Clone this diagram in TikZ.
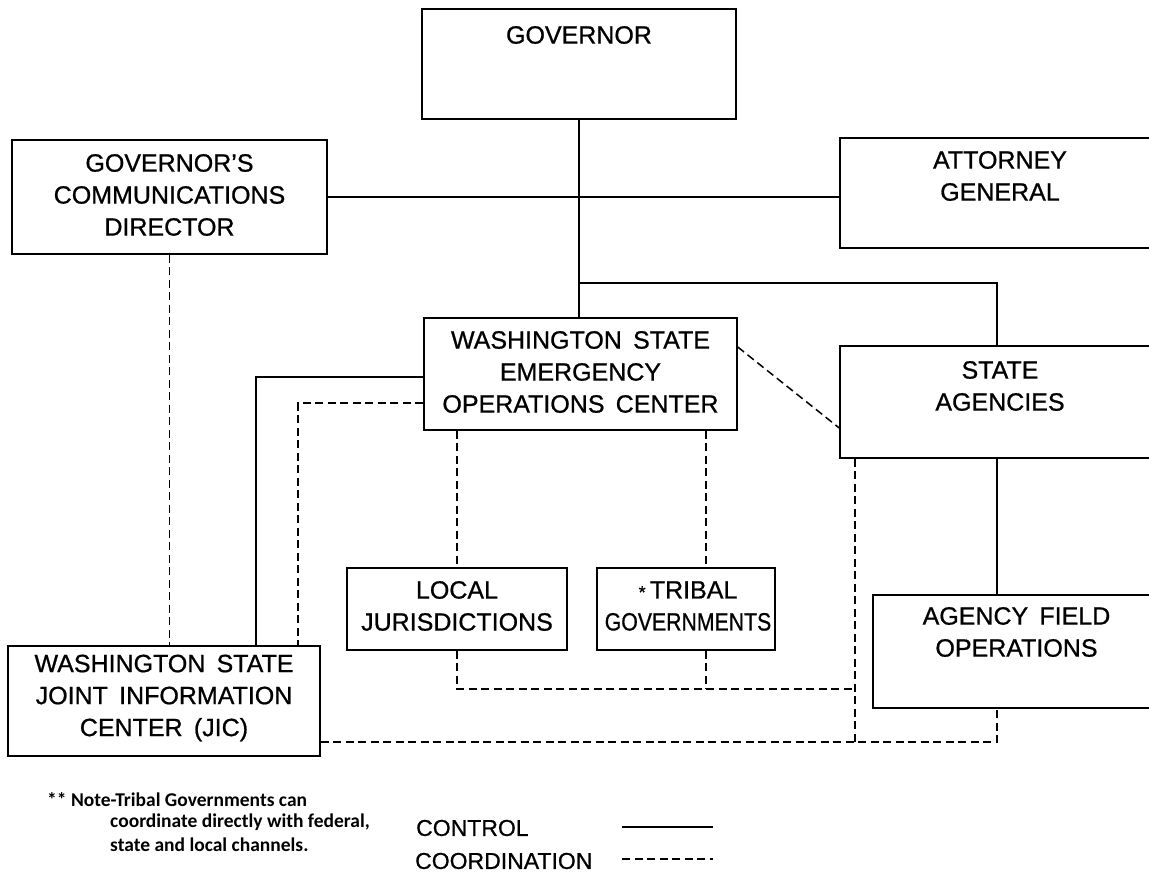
\documentclass[tikz,border=0pt]{standalone}
\usepackage{fontspec}
\setmainfont{Liberation Sans}[FakeBold=0.8]
\newfontfamily\notefont{Carlito}
\usetikzlibrary{calc}
\newcommand{\wgap}{\hspace{0.45em}}
\tikzset{
  box/.style={draw=black, line width=1.5pt, rectangle, inner sep=0pt, fill=white},
  lbl/.style={align=center, inner sep=0pt, font=\fontsize{25}{32}\selectfont},
  ctrl/.style={line width=1.5pt},
  coord/.style={line width=1.5pt, dash pattern=on 8pt off 4.5pt},
  legtext/.style={anchor=west, inner sep=0pt, font=\fontsize{23}{28}\selectfont},
  notetext/.style={anchor=west, inner sep=0pt, font=\notefont\bfseries\fontsize{19.5}{24}\selectfont}
}
\begin{document}
\begin{tikzpicture}[x=1pt, y=-1pt]
\useasboundingbox (0,0) rectangle (1149,880);
\clip (0,0) rectangle (1149,880);
\fill[white] (0,0) rectangle (1149,880);

% boxes
\node[box, minimum width=314pt, minimum height=110pt] (gov) at (579,64) {};
\node[box, minimum width=315pt, minimum height=114pt] (cdir) at (169.5,197) {};
\node[box, minimum width=320pt, minimum height=110pt] (atty) at (1000,193) {};
\node[box, minimum width=313pt, minimum height=112pt] (wseoc) at (580.5,374) {};
\node[box, minimum width=320pt, minimum height=112pt] (stag) at (1000,402) {};
\node[box, minimum width=220pt, minimum height=82pt] (local) at (457,609) {};
\node[box, minimum width=178pt, minimum height=82pt] (tribal) at (686,609) {};
\node[box, minimum width=287pt, minimum height=113pt] (afo) at (1016.5,651.5) {};
\node[box, minimum width=312pt, minimum height=110pt] (jic) at (164,701) {};

% box texts
\node[lbl] (govT) at (579,35) {GOVERNOR};
\node[lbl] (cdirT) at (169.5,195) {GOVERNOR'S\\COMMUNICATIONS\\DIRECTOR};
\node[lbl] (attyT) at (1000,176) {ATTORNEY\\GENERAL};
\node[lbl] (wseocT) at (580.5,372) {WASHINGTON\wgap STATE\\EMERGENCY\\OPERATIONS\wgap CENTER};
\node[lbl] (stagT) at (1000,386) {STATE\\AGENCIES};
\node[lbl] (localT) at (457,606) {LOCAL\\JURISDICTIONS};
\node[lbl] (tribalT) at (688,606) {{\fontsize{18}{22}\selectfont *}\,TRIBAL\\\scalebox{0.85}[1]{GOVERNMENTS}};
\node[lbl] (afoT) at (1016.5,632) {AGENCY\wgap FIELD\\OPERATIONS};
\node[lbl] (jicT) at (164,698) {WASHINGTON\wgap STATE\\JOINT\wgap INFORMATION\\CENTER\wgap (JIC)};

% junction coordinates
\coordinate (br) at (579,283);
\coordinate (ja) at (997,283);
\coordinate (xs) at (256,0);
\coordinate (xd) at (298,0);
\coordinate (xt) at (706,0);
\coordinate (xv) at (855,0);
\coordinate (h1) at (855,689);
\coordinate (hb) at (0,742);
\coordinate (xa) at (997,0);

% control lines
\draw[ctrl] (gov.south) -- (gov.south |- wseoc.north);
\draw[ctrl] (cdir.east) -- (cdir.east -| atty.west);
\draw[ctrl] (br) -- (ja) -- (ja |- stag.north);
\draw[ctrl] (ja |- stag.south) -- (ja |- afo.north);
\draw[ctrl] ([yshift=-3pt]wseoc.west) -| (xs |- jic.north);

% coordination lines
\draw[coord] ([yshift=27pt]wseoc.east) -- ([yshift=-26pt]stag.west);
\draw[coord] ([yshift=-29pt]wseoc.west) -| (xd |- jic.north);
\draw[coord] (cdir.south) -- (cdir.south |- jic.north);
\draw[coord] (local.north |- wseoc.south) -- (local.north);
\draw[coord] (xt |- wseoc.south) -- (xt |- tribal.north);
\draw[coord] (local.south) |- (h1);
\draw[coord] (xt |- tribal.south) -- (xt |- h1);
\draw[coord] (xv |- stag.south) -- (xv |- hb);
\draw[coord] (jic.east |- hb) -- (xa |- hb) -- (xa |- afo.south);

% note
\node[notetext] (note1) at (47,800) {** Note-Tribal Governments can};
\node[notetext] (note2) at (110,822) {coordinate directly with federal,};
\node[notetext] (note3) at (110,845) {state and local channels.};

% legend
\node[legtext] (legC) at (416,828) {CONTROL};
\node[legtext] (legD) at (415,861) {COORDINATION};
\coordinate (lc1) at (622,827);
\coordinate (lc2) at (713,827);
\coordinate (ld1) at (622,859);
\coordinate (ld2) at (713,859);
\draw[ctrl] (lc1) -- (lc2);
\draw[coord] (ld1) -- (ld2);
\end{tikzpicture}
\end{document}
